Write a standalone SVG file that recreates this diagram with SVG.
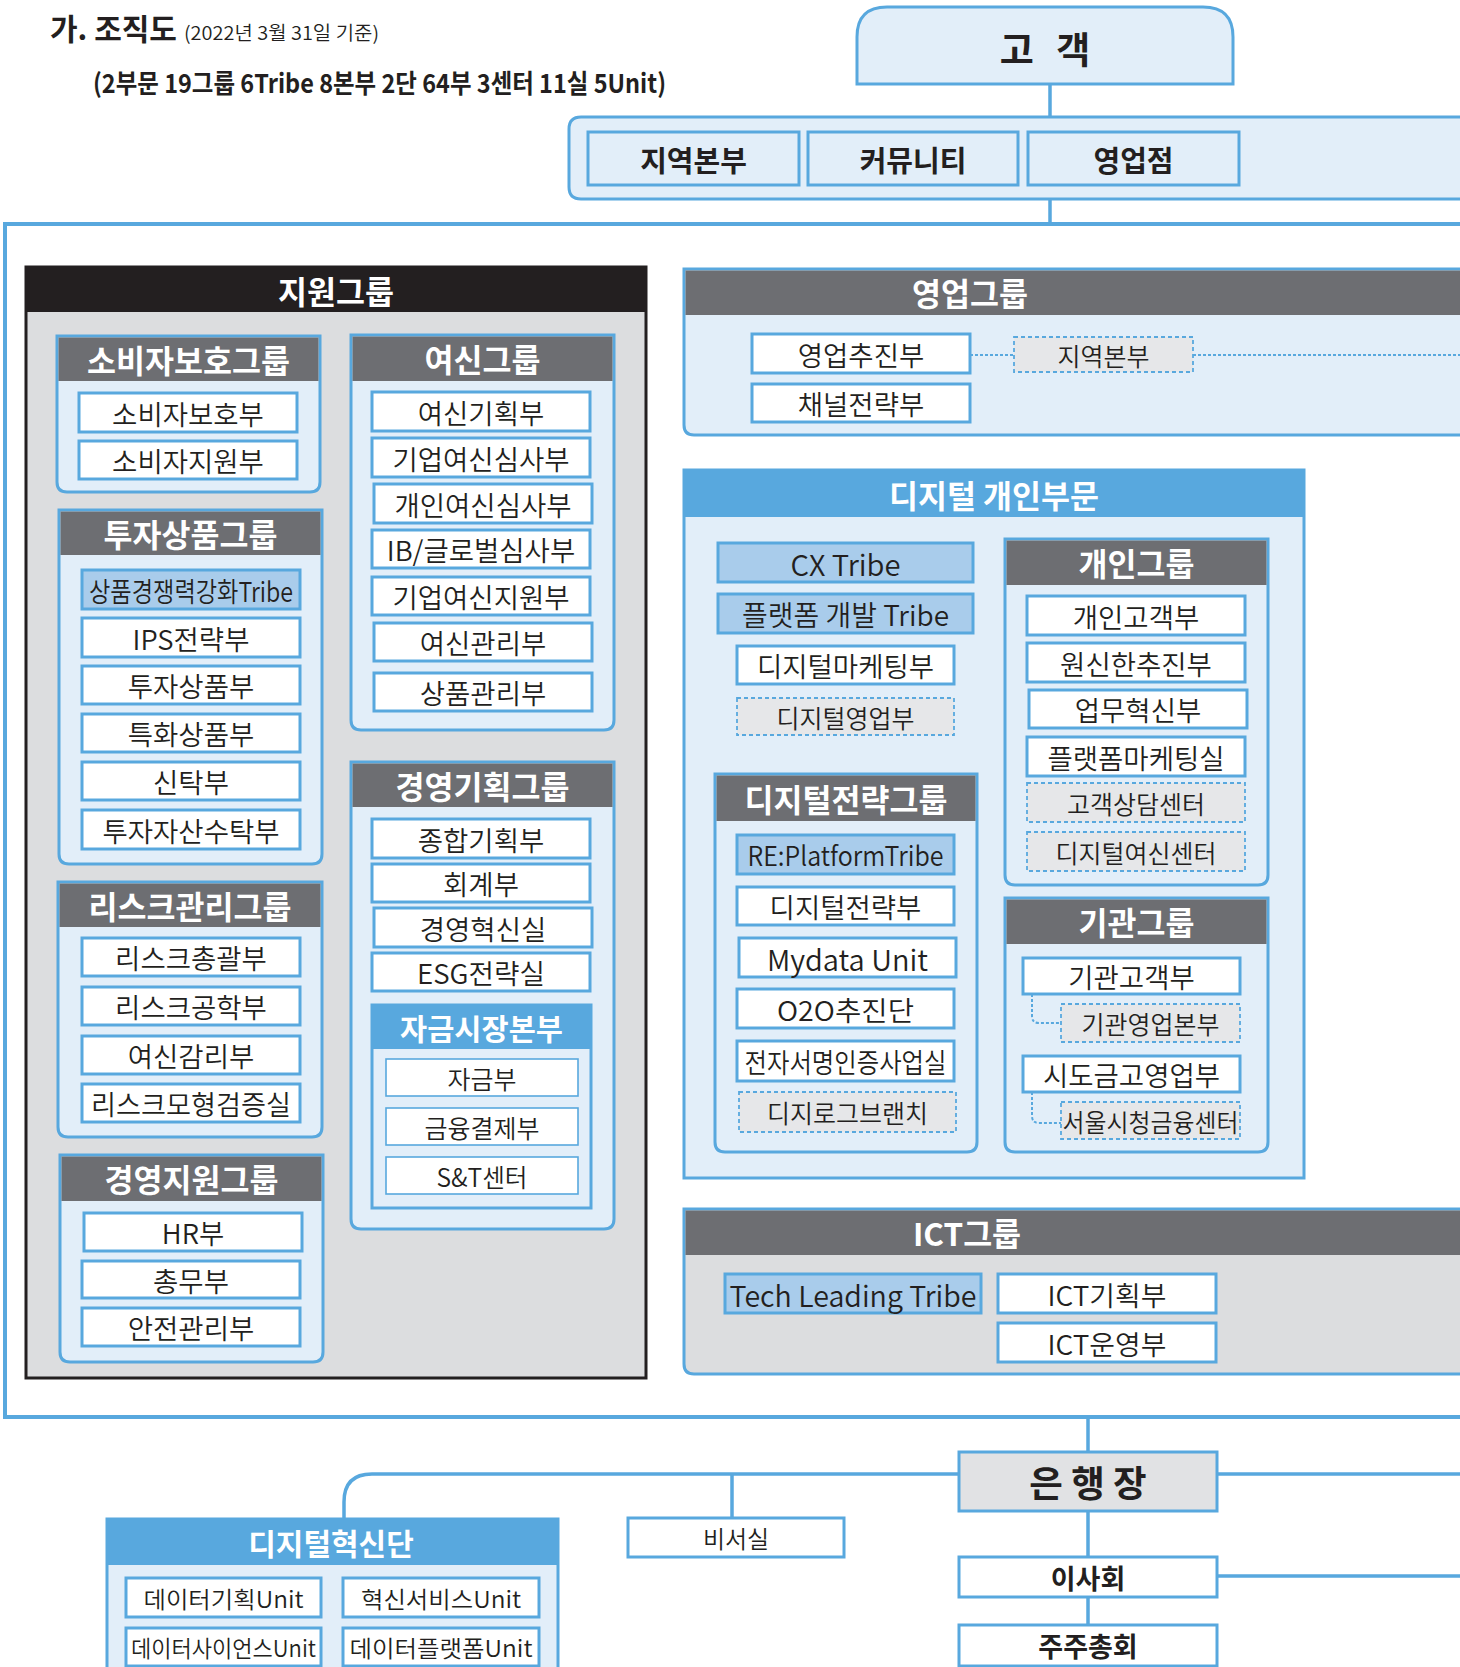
<svg xmlns="http://www.w3.org/2000/svg" width="1460" height="1667" viewBox="0 0 1460 1667">
<style>
text{font-family:"Noto Sans CJK KR","Noto Sans",sans-serif;fill:#231f20;text-anchor:middle;dominant-baseline:central;font-size:27.5px;font-weight:350}
.item{fill:#fff;stroke:#58a8de;stroke-width:3}
.thin{fill:#fff;stroke:#58a8de;stroke-width:1.6}
.tribe{fill:#a9cceb;stroke:#58a8de;stroke-width:3}
.dash{fill:#e6e7e9;stroke:#58a8de;stroke-width:1.8;stroke-dasharray:4 3}
.gb{fill:#e2eef9;stroke:#58a8de;stroke-width:3}
.gg{fill:#dcdddf;stroke:#58a8de;stroke-width:3}
.gh{fill:#6d6e72}
.bh{fill:#58a8de}
.h{font-weight:bold;fill:#fff;font-size:31.5px}
.d{font-size:25px}
.s{font-size:25px}
.b{font-weight:bold}
.conn{fill:none;stroke:#58a8de;stroke-width:3.5}
.dot{fill:none;stroke:#58a8de;stroke-width:2;stroke-dasharray:3 2}
</style>
<rect width="1460" height="1667" fill="#fff"/>
<g id="title">
<text x="50" y="40" style="text-anchor:start;dominant-baseline:auto;font-weight:bold;font-size:30px">가. 조직도</text>
<text x="184" y="40" style="text-anchor:start;dominant-baseline:auto;font-size:19px" textLength="195" lengthAdjust="spacingAndGlyphs">(2022년 3월 31일 기준)</text>
<text x="93" y="93" style="text-anchor:start;dominant-baseline:auto;font-weight:bold;font-size:26px" textLength="573" lengthAdjust="spacingAndGlyphs">(2부문 19그룹 6Tribe 8본부 2단 64부 3센터 11실 5Unit)</text>
</g>
<g id="customer">
<path class="gb" d="M857,84V37Q857,7 887,7H1203Q1233,7 1233,37V84Z"/>
<text x="1045" y="48" class="b" style="font-size:37px;word-spacing:14px">고 객</text>
</g>
<g id="channels">
<path class="gb" d="M1500,117H581Q569,117 569,129V187Q569,199 581,199H1500Z"/>
<g id="n-region"><rect class="gb" x="588" y="132" width="211" height="53"/><text x="693.5" y="158.5" class="b" style="font-size:29px">지역본부</text></g>
<g id="n-community"><rect class="gb" x="808" y="132" width="210" height="53"/><text x="913" y="158.5" class="b" style="font-size:29px">커뮤니티</text></g>
<g id="n-branch"><rect class="gb" x="1028" y="132" width="211" height="53"/><text x="1133.5" y="158.5" class="b" style="font-size:29px">영업점</text></g>
</g>
<rect id="frame" x="5" y="224" width="1500" height="1193" fill="none" stroke="#58a8de" stroke-width="4"/>
<g id="support">
<rect x="26" y="267" width="620" height="1111" fill="#dcdddf" stroke="#231f20" stroke-width="3"/>
<rect x="26" y="267" width="620" height="45" fill="#231f20"/>
<text x="336" y="289.5" class="h">지원그룹</text>
</g>
<g id="g-consumer">
<path class="gb" d="M57,336H320V482Q320,492 310,492H67Q57,492 57,482Z"/>
<rect class="gh" x="58.5" y="337.5" width="260" height="43.5"/>
<text x="188.5" y="358.5" class="h">소비자보호그룹</text>
<rect class="item" x="79" y="393" width="218" height="39"/><text x="188" y="412.5">소비자보호부</text>
<rect class="item" x="79" y="441" width="218" height="38"/><text x="188" y="460">소비자지원부</text>
</g>
<g id="g-invest">
<path class="gb" d="M59,510H322V854Q322,864 312,864H69Q59,864 59,854Z"/>
<rect class="gh" x="60.5" y="511.5" width="260" height="43.5"/>
<text x="190.5" y="532.5" class="h">투자상품그룹</text>
<rect class="tribe" x="82" y="570" width="218" height="39"/><text x="191" y="589.5" textLength="204" lengthAdjust="spacingAndGlyphs">상품경쟁력강화Tribe</text>
<rect class="item" x="82" y="618" width="218" height="39"/><text x="191" y="637.5">IPS전략부</text>
<rect class="item" x="82" y="666" width="218" height="38"/><text x="191" y="685">투자상품부</text>
<rect class="item" x="82" y="714" width="218" height="38"/><text x="191" y="733">특화상품부</text>
<rect class="item" x="82" y="762" width="218" height="38"/><text x="191" y="781">신탁부</text>
<rect class="item" x="82" y="810" width="218" height="39"/><text x="191" y="829.5">투자자산수탁부</text>
</g>
<g id="g-risk">
<path class="gb" d="M58,882H322V1127Q322,1137 312,1137H68Q58,1137 58,1127Z"/>
<rect class="gh" x="59.5" y="883.5" width="261" height="43.5"/>
<text x="190" y="904.5" class="h">리스크관리그룹</text>
<rect class="item" x="82" y="938" width="218" height="38"/><text x="191" y="957">리스크총괄부</text>
<rect class="item" x="82" y="987" width="218" height="38"/><text x="191" y="1006">리스크공학부</text>
<rect class="item" x="82" y="1036" width="218" height="38"/><text x="191" y="1055">여신감리부</text>
<rect class="item" x="82" y="1084" width="218" height="38"/><text x="191" y="1103" textLength="200" lengthAdjust="spacingAndGlyphs">리스크모형검증실</text>
</g>
<g id="g-mgmtsupport">
<path class="gb" d="M60,1155H323V1352Q323,1362 313,1362H70Q60,1362 60,1352Z"/>
<rect class="gh" x="61.5" y="1156.5" width="260" height="44.5"/>
<text x="191.5" y="1178" class="h">경영지원그룹</text>
<rect class="item" x="84" y="1213" width="218" height="38"/><text x="193" y="1232">HR부</text>
<rect class="item" x="82" y="1261" width="218" height="37"/><text x="191" y="1279.5">총무부</text>
<rect class="item" x="82" y="1308" width="218" height="38"/><text x="191" y="1327">안전관리부</text>
</g>
<g id="g-credit">
<path class="gb" d="M351,335H614V720Q614,730 604,730H361Q351,730 351,720Z"/>
<rect class="gh" x="352.5" y="336.5" width="260" height="44.5"/>
<text x="482.5" y="358" class="h">여신그룹</text>
<rect class="item" x="372" y="392" width="218" height="39"/><text x="481" y="411.5">여신기획부</text>
<rect class="item" x="372" y="438" width="218" height="39"/><text x="481" y="457.5">기업여신심사부</text>
<rect class="item" x="374" y="484" width="218" height="39"/><text x="483" y="503.5">개인여신심사부</text>
<rect class="item" x="372" y="530" width="218" height="38"/><text x="481" y="549">IB/글로벌심사부</text>
<rect class="item" x="372" y="577" width="218" height="38"/><text x="481" y="596">기업여신지원부</text>
<rect class="item" x="374" y="623" width="218" height="38"/><text x="483" y="642">여신관리부</text>
<rect class="item" x="374" y="673" width="218" height="38"/><text x="483" y="692">상품관리부</text>
</g>
<g id="g-planning">
<path class="gb" d="M351,762H614V1219Q614,1229 604,1229H361Q351,1229 351,1219Z"/>
<rect class="gh" x="352.5" y="763.5" width="260" height="43.5"/>
<text x="482.5" y="784.5" class="h">경영기획그룹</text>
<rect class="item" x="372" y="819" width="218" height="39"/><text x="481" y="838.5">종합기획부</text>
<rect class="item" x="372" y="864" width="218" height="38"/><text x="481" y="883">회계부</text>
<rect class="item" x="374" y="908" width="218" height="39"/><text x="483" y="927.5">경영혁신실</text>
<rect class="item" x="372" y="953" width="218" height="38"/><text x="481" y="972" textLength="128" lengthAdjust="spacingAndGlyphs">ESG전략실</text>
</g>
<g id="g-treasury">
<rect class="gb" x="372" y="1005" width="219" height="203"/>
<rect class="bh" x="372" y="1005" width="219" height="44"/>
<text x="481.5" y="1027" class="h" style="font-size:29.5px">자금시장본부</text>
<rect class="thin" x="386" y="1059" width="192" height="37"/><text x="482" y="1077.5" class="s">자금부</text>
<rect class="thin" x="386" y="1108" width="192" height="37"/><text x="482" y="1126.5" class="s">금융결제부</text>
<rect class="thin" x="386" y="1157" width="192" height="37"/><text x="482" y="1175.5" class="s" textLength="91" lengthAdjust="spacingAndGlyphs">S&amp;T센터</text>
</g>
<g id="g-sales">
<path class="gb" d="M684,269H1500V435H694Q684,435 684,425Z"/>
<rect class="gh" x="685.5" y="270.5" width="800" height="44.5"/>
<text x="970" y="292" class="h">영업그룹</text>
<rect class="item" x="752" y="334" width="218" height="39"/><text x="861" y="353.5">영업추진부</text>
<rect class="item" x="752" y="384" width="218" height="38"/><text x="861" y="403">채널전략부</text>
<rect class="dash" x="1014" y="337" width="179" height="35"/><text x="1103.5" y="354.5" class="d">지역본부</text>
</g>
<g id="digital-personal">
<rect class="gb" x="684" y="470" width="620" height="708"/>
<rect class="bh" x="684" y="470" width="620" height="47"/>
<text x="994" y="493.5" class="h">디지털 개인부문</text>
<rect class="tribe" x="718" y="543" width="255" height="39"/><text x="845.5" y="562.5" style="font-size:29px" textLength="110" lengthAdjust="spacingAndGlyphs">CX Tribe</text>
<rect class="tribe" x="718" y="594" width="255" height="39"/><text x="845.5" y="613.5" style="font-size:28px" textLength="207" lengthAdjust="spacingAndGlyphs">플랫폼 개발 Tribe</text>
<rect class="item" x="737" y="646" width="217" height="38"/><text x="845.5" y="665">디지털마케팅부</text>
<rect class="dash" x="737" y="698" width="217" height="37"/><text x="845.5" y="716.5" class="d">디지털영업부</text>
</g>
<g id="g-personal">
<path class="gb" d="M1005,539H1268V875Q1268,885 1258,885H1015Q1005,885 1005,875Z"/>
<rect class="gh" x="1006.5" y="540.5" width="260" height="44.5"/>
<text x="1136.5" y="562" class="h">개인그룹</text>
<rect class="item" x="1027" y="596" width="218" height="39"/><text x="1136" y="615.5">개인고객부</text>
<rect class="item" x="1027" y="643" width="218" height="39"/><text x="1136" y="662.5">원신한추진부</text>
<rect class="item" x="1029" y="690" width="218" height="38"/><text x="1138" y="709">업무혁신부</text>
<rect class="item" x="1027" y="737" width="218" height="39"/><text x="1136" y="756.5">플랫폼마케팅실</text>
<rect class="dash" x="1027" y="783" width="218" height="39"/><text x="1136" y="802.5" class="d">고객상담센터</text>
<rect class="dash" x="1027" y="832" width="218" height="39"/><text x="1136" y="851.5" class="d">디지털여신센터</text>
</g>
<g id="g-digitalstrategy">
<path class="gb" d="M715,774H977V1142Q977,1152 967,1152H725Q715,1152 715,1142Z"/>
<rect class="gh" x="716.5" y="775.5" width="259" height="45.5"/>
<text x="846" y="797.5" class="h">디지털전략그룹</text>
<rect class="tribe" x="737" y="835" width="217" height="39"/><text x="845.5" y="854.5" style="font-size:27px" textLength="196" lengthAdjust="spacingAndGlyphs">RE:PlatformTribe</text>
<rect class="item" x="737" y="887" width="217" height="38"/><text x="845.5" y="906">디지털전략부</text>
<rect class="item" x="739" y="938" width="217" height="39"/><text x="847.5" y="957.5" style="font-size:29px" textLength="161" lengthAdjust="spacingAndGlyphs">Mydata Unit</text>
<rect class="item" x="737" y="989" width="217" height="39"/><text x="845.5" y="1008.5" textLength="137" lengthAdjust="spacingAndGlyphs">O2O추진단</text>
<rect class="item" x="737" y="1041" width="217" height="40"/><text x="845.5" y="1061" textLength="202" lengthAdjust="spacingAndGlyphs">전자서명인증사업실</text>
<rect class="dash" x="739" y="1092" width="217" height="40"/><text x="847.5" y="1112" class="d">디지로그브랜치</text>
</g>
<g id="g-institution">
<path class="gb" d="M1005,898H1268V1142Q1268,1152 1258,1152H1015Q1005,1152 1005,1142Z"/>
<rect class="gh" x="1006.5" y="899.5" width="260" height="44.5"/>
<text x="1136.5" y="921" class="h">기관그룹</text>
<rect class="item" x="1023" y="958" width="217" height="36"/><text x="1131.5" y="976">기관고객부</text>
<rect class="dash" x="1061" y="1004" width="179" height="38"/><text x="1150.5" y="1023" class="d">기관영업본부</text>
<rect class="item" x="1023" y="1056" width="217" height="36"/><text x="1131.5" y="1074">시도금고영업부</text>
<rect class="dash" x="1061" y="1102" width="179" height="37"/><text x="1150.5" y="1120.5" class="d" textLength="176" lengthAdjust="spacingAndGlyphs">서울시청금융센터</text>
</g>
<g id="g-ict">
<path class="gg" d="M684,1209H1500V1374H694Q684,1374 684,1364Z"/>
<rect class="gh" x="685.5" y="1210.5" width="800" height="44.5"/>
<text x="967" y="1232" class="h">ICT그룹</text>
<rect class="tribe" x="725" y="1274" width="256" height="39"/><text x="853" y="1293.5" style="font-size:29px" textLength="247" lengthAdjust="spacingAndGlyphs">Tech Leading Tribe</text>
<rect class="item" x="998" y="1274" width="218" height="39"/><text x="1107" y="1293.5" textLength="119" lengthAdjust="spacingAndGlyphs">ICT기획부</text>
<rect class="item" x="998" y="1323" width="218" height="39"/><text x="1107" y="1342.5" textLength="119" lengthAdjust="spacingAndGlyphs">ICT운영부</text>
</g>
<g id="ceo">
<rect x="959" y="1452" width="258" height="59" fill="#e1e2e4" stroke="#58a8de" stroke-width="3"/>
<text x="1088" y="1481.5" class="b" style="font-size:36.5px">은 행 장</text>
</g>
<g id="secretary">
<rect class="item" x="628" y="1518" width="216" height="39"/><text x="736" y="1537.5" style="font-size:24px">비서실</text>
</g>
<g id="board">
<rect class="item" x="959" y="1557" width="258" height="40"/><text x="1088" y="1577" class="b" style="font-size:27px">이사회</text>
</g>
<g id="shareholders">
<rect class="item" x="959" y="1625" width="258" height="41"/><text x="1088" y="1645.5" class="b" style="font-size:27px">주주총회</text>
</g>
<g id="digital-innovation">
<rect class="gb" x="107" y="1519" width="451" height="200"/>
<rect class="bh" x="107" y="1519" width="451" height="46"/>
<text x="331" y="1542" class="h" style="font-size:30px">디지털혁신단</text>
<rect class="item" x="126" y="1578" width="195" height="39"/><text x="223.5" y="1597.5" style="font-size:23px" textLength="160" lengthAdjust="spacingAndGlyphs">데이터기획Unit</text>
<rect class="item" x="343" y="1578" width="196" height="39"/><text x="441" y="1597.5" style="font-size:23px" textLength="160" lengthAdjust="spacingAndGlyphs">혁신서비스Unit</text>
<rect class="item" x="126" y="1628" width="195" height="38"/><text x="223.5" y="1647" style="font-size:23px" textLength="185" lengthAdjust="spacingAndGlyphs">데이터사이언스Unit</text>
<rect class="item" x="343" y="1628" width="196" height="38"/><text x="441" y="1647" style="font-size:23px" textLength="183" lengthAdjust="spacingAndGlyphs">데이터플랫폼Unit</text>
</g>
<g id="connectors">
<path class="conn" d="M1050,84V117M1050,199V224"/>
<path class="conn" d="M1088,1417V1452M959,1474H372Q344,1474 344,1502V1519M732,1474V1518M1217,1474H1460M1088,1511V1557M1217,1576H1460M1088,1597V1625"/>
<path class="dot" d="M970,355H1014M1193,355H1460"/>
<path class="dot" d="M1032,994V1016Q1032,1023 1039,1023H1061M1032,1092V1116Q1032,1123 1039,1123H1061"/>
</g>
</svg>
